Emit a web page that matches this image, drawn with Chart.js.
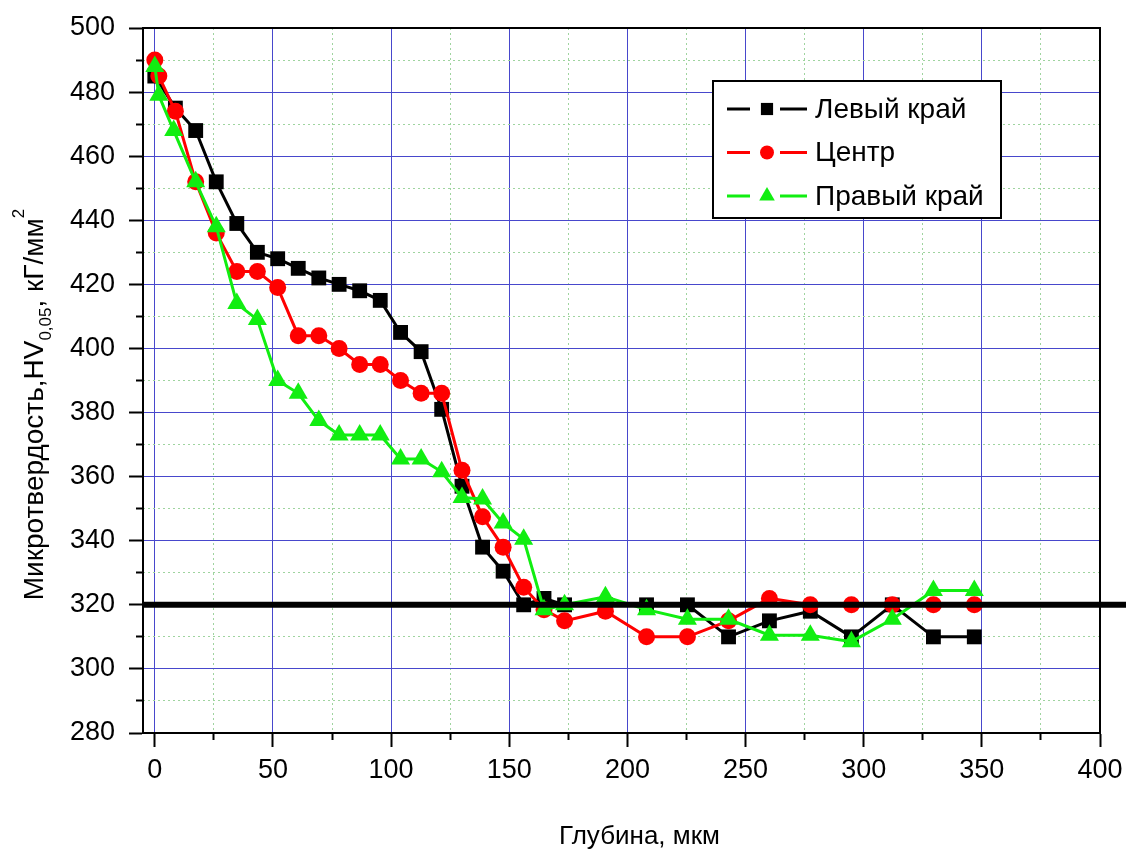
<!DOCTYPE html>
<html>
<head>
<meta charset="utf-8">
<script src="https://cdn.jsdelivr.net/npm/chart.js@4.4.1/dist/chart.umd.min.js"></script>
<style>
    html, body { margin: 0; padding: 0; background: #fff; }
    canvas { display: block; }
</style>
</head>
<body>
<canvas id="myChart" width="1126" height="849"></canvas>
<script>
// depth, um
const depthLeft = [0, 8.7, 17.3, 26, 34.7, 43.4, 52, 60.7, 69.4, 78, 86.7, 95.4, 104, 112.7, 121.4, 130, 138.7, 147.4, 156.1, 164.7, 173.4, 190.7, 208.1, 225.4, 242.8, 260.1, 277.4, 294.8, 312.1, 329.5, 346.8];
const hvLeft = [485, 475, 468, 452, 439, 430, 428, 425, 422, 420, 418, 415, 405, 399, 381, 357, 338, 330.5, 320, 322, 320, 320, 320, 320, 310, 315, 318, 310, 320, 310, 310];

const depthCenter = [0, 1.7, 8.7, 17.3, 26, 34.7, 43.4, 52, 60.7, 69.4, 78, 86.7, 95.4, 104, 112.7, 121.4, 130, 138.7, 147.4, 156.1, 164.7, 173.4, 190.7, 208.1, 225.4, 242.8, 260.1, 277.4, 294.8, 312.1, 329.5, 346.8];
const hvCenter = [490, 485, 474, 452, 436, 424, 424, 419, 404, 404, 400, 395, 395, 390, 386, 386, 362, 347.5, 338, 325.5, 318.5, 315, 318, 310, 310, 315, 322, 320, 320, 320, 320, 320];

const depthRight = [0, 1.7, 8, 17.3, 26, 34.7, 43.4, 52, 60.7, 69.4, 78, 86.7, 95.4, 104, 112.7, 121.4, 130, 138.7, 147.4, 156.1, 164.7, 173.4, 190.7, 208.1, 225.4, 242.8, 260.1, 277.4, 294.8, 312.1, 329.5, 346.8];
const hvRight = [488, 479, 468, 452, 438, 414, 409, 390, 386, 377.5, 373, 373, 373, 365.5, 365.5, 361.5, 353.5, 353, 345.5, 340.5, 318.5, 320, 322.5, 318.5, 315.5, 315.5, 310.5, 310.5, 308.5, 315.5, 324.5, 324.5];

const seriesNames = ['Левый край', 'Центр', 'Правый край'];
const baseLevel = 320;
const baseDepth = [-5, 430];

const xTitle = 'Глубина, мкм';
const yTitleParts = ['Микротвердость,HV', '0,05', ', кГ/мм', '2'];

const gridBlue = '#4848cc';
const gridGreen = '#9fd49f';
const tickFont = { family: "'Liberation Sans', Arial, sans-serif", size: 27 };
const textFont = "'Liberation Sans', Arial, sans-serif";

function toPoints(xs, ys) {
    return xs.map((x, i) => ({ x: x, y: ys[i] }));
}

const framePlugin = {
    id: 'frame',
    beforeDatasetsDraw(chart) {
        const { ctx, chartArea: a } = chart;
        ctx.save();
        ctx.strokeStyle = '#000';
        ctx.lineWidth = 2;
        ctx.beginPath();
        ctx.moveTo(a.left, a.top);
        ctx.lineTo(a.right, a.top);
        ctx.lineTo(a.right, a.bottom);
        ctx.stroke();
        ctx.restore();
    }
};

const titlesPlugin = {
    id: 'titles',
    afterDraw(chart) {
        const { ctx, chartArea: a } = chart;
        ctx.save();
        ctx.fillStyle = '#000';

        ctx.font = '26px ' + textFont;
        ctx.textAlign = 'center';
        ctx.textBaseline = 'alphabetic';
        ctx.fillText(xTitle, (a.left + a.right) / 2 + 18, a.bottom + 111);

        // y title with sub- and superscript
        const parts = [
            [yTitleParts[0], 28, 0],
            [yTitleParts[1], 17, 8],
            [yTitleParts[2], 28, 0],
            [yTitleParts[3], 17, -19]
        ];
        let total = 0;
        parts.forEach(p => {
            ctx.font = p[1] + 'px ' + textFont;
            total += ctx.measureText(p[0]).width;
        });
        ctx.translate(43, (a.top + a.bottom) / 2 + 24);
        ctx.rotate(-Math.PI / 2);
        ctx.textAlign = 'left';
        let x = -total / 2;
        parts.forEach(p => {
            ctx.font = p[1] + 'px ' + textFont;
            ctx.fillText(p[0], x, p[2]);
            x += ctx.measureText(p[0]).width;
        });
        ctx.restore();
    }
};

const legendBoxPlugin = {
    id: 'legendBox',
    afterDraw(chart) {
        const { ctx, chartArea: a } = chart;
        const x0 = a.right - 387, y0 = a.top + 53, w = 288, h = 137;
        ctx.save();
        ctx.fillStyle = '#fff';
        ctx.fillRect(x0, y0, w, h);
        ctx.strokeStyle = '#000';
        ctx.lineWidth = 2;
        ctx.strokeRect(x0, y0, w, h);
        ctx.font = '28px ' + textFont;
        ctx.textAlign = 'left';
        ctx.textBaseline = 'middle';
        seriesNames.forEach((name, i) => {
            const ds = chart.data.datasets[i];
            const cy = y0 + 28 + i * 43.5;
            const mx = x0 + 54;
            ctx.strokeStyle = ds.borderColor;
            ctx.lineWidth = 3;
            ctx.beginPath();
            ctx.moveTo(x0 + 14, cy);
            ctx.lineTo(mx - 17, cy);
            ctx.moveTo(mx + 13, cy);
            ctx.lineTo(x0 + 94, cy);
            ctx.stroke();
            ctx.fillStyle = ds.backgroundColor;
            Chart.helpers.drawPoint(ctx, { pointStyle: ds.pointStyle, radius: ds.pointRadius * 0.82, borderWidth: 0, rotation: 0 }, mx, cy);
            ctx.fillStyle = '#000';
            ctx.fillText(name, x0 + 102, cy + 1);
        });
        ctx.restore();
    }
};

let ctx = document.getElementById('myChart');

new Chart(ctx, {
    type: 'line',
    data: {
        datasets: [{
            label: seriesNames[0],
            data: toPoints(depthLeft, hvLeft),
            borderColor: '#000000',
            backgroundColor: '#000000',
            borderWidth: 3,
            pointStyle: 'rect',
            pointRadius: 10.5,
            pointBorderWidth: 0,
            tension: 0,
            order: 3
        }, {
            label: seriesNames[1],
            data: toPoints(depthCenter, hvCenter),
            borderColor: '#ff0000',
            backgroundColor: '#ff0000',
            borderWidth: 3,
            pointStyle: 'circle',
            pointRadius: 8.5,
            pointBorderWidth: 0,
            tension: 0,
            order: 2
        }, {
            label: seriesNames[2],
            data: toPoints(depthRight, hvRight),
            borderColor: '#11ee11',
            backgroundColor: '#11ee11',
            borderWidth: 3,
            pointStyle: 'triangle',
            pointRadius: 11,
            pointBorderWidth: 0,
            tension: 0,
            order: 1
        }, {
            label: 'base',
            data: baseDepth.map(x => ({ x: x, y: baseLevel })),
            borderColor: '#000000',
            borderWidth: 6,
            pointRadius: 0,
            clip: { left: 0, top: 0, right: false, bottom: 0 },
            order: 0
        }]
    },
    options: {
        responsive: false,
        animation: false,
        layout: {
            padding: { top: 28, right: 26, bottom: 0, left: 0 }
        },
        plugins: {
            legend: { display: false },
            tooltip: { enabled: false }
        },
        scales: {
            x: {
                type: 'linear',
                position: 'bottom',
                weight: 1,
                min: -5,
                max: 400,
                afterFit: s => { s.height = 116; s.paddingLeft = 0; s.paddingRight = 0; },
                ticks: {
                    stepSize: 50,
                    includeBounds: false,
                    autoSkip: false,
                    maxRotation: 0,
                    padding: 7,
                    color: '#000',
                    font: tickFont
                },
                grid: {
                    color: gridBlue,
                    lineWidth: 1,
                    tickColor: '#000',
                    tickWidth: 2,
                    tickLength: 14
                },
                border: { color: '#000', width: 2 }
            },
            xm: {
                type: 'linear',
                position: 'bottom',
                weight: 0,
                min: -5,
                max: 400,
                afterBuildTicks: s => { s.ticks = s.ticks.filter(t => t.value > 0 && t.value % 50 !== 0); },
                afterFit: s => { s.height = 0; s.paddingLeft = 0; s.paddingRight = 0; },
                ticks: { display: false, stepSize: 25, includeBounds: false, autoSkip: false },
                grid: {
                    color: gridGreen,
                    lineWidth: 1,
                    tickBorderDash: [],
                    tickColor: '#000',
                    tickWidth: 2,
                    tickLength: 7
                },
                border: { display: false, dash: [2, 3] }
            },
            y: {
                type: 'linear',
                position: 'left',
                weight: 1,
                min: 280,
                max: 500,
                afterFit: s => { s.width = 143; s.paddingTop = 0; s.paddingBottom = 0; },
                ticks: {
                    stepSize: 20,
                    autoSkip: false,
                    padding: 14,
                    color: '#000',
                    font: tickFont
                },
                grid: {
                    color: gridBlue,
                    lineWidth: 1,
                    tickColor: '#000',
                    tickWidth: 2,
                    tickLength: 14
                },
                border: { color: '#000', width: 2 }
            },
            ym: {
                type: 'linear',
                position: 'left',
                weight: 0,
                min: 280,
                max: 500,
                afterBuildTicks: s => { s.ticks = s.ticks.filter(t => t.value % 20 !== 0); },
                afterFit: s => { s.width = 0; s.paddingTop = 0; s.paddingBottom = 0; },
                ticks: { display: false, stepSize: 10, autoSkip: false },
                grid: {
                    color: gridGreen,
                    lineWidth: 1,
                    tickBorderDash: [],
                    tickColor: '#000',
                    tickWidth: 2,
                    tickLength: 7
                },
                border: { display: false, dash: [2, 3] }
            }
        }
    },
    plugins: [framePlugin, titlesPlugin, legendBoxPlugin]
});
</script>
</body>
</html>
